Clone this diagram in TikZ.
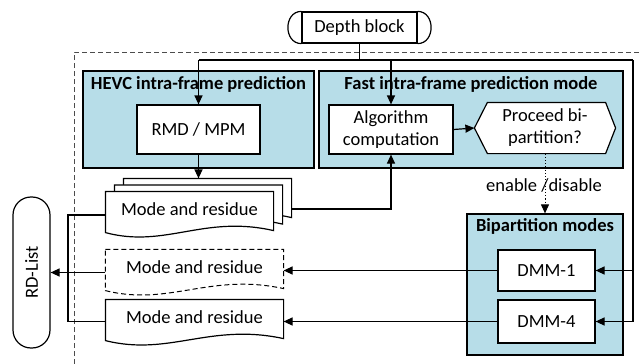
\documentclass[tikz,border=0pt]{standalone}
\usepackage{fontspec}
\setmainfont{Carlito}
\usetikzlibrary{arrows.meta,calc}
\definecolor{boxblue}{RGB}{183,221,232}
\begin{document}
\begin{tikzpicture}[x=1pt,y=-1pt, line width=1.2pt,
  every node/.style={font=\fontsize{18.5}{22}\selectfont, inner sep=0pt},
  arr/.style={-{Triangle[length=9pt,width=8pt]}},
  group/.style={draw, fill=boxblue},
  wbox/.style={draw, fill=white, align=center},
  ttl/.style={font=\fontsize{18.5}{22}\selectfont\bfseries, anchor=base},
  docbox/.style={minimum height=34pt},
  frame/.style={dash pattern=on 5pt off 3pt, black!70, line width=0.9pt},
  dotline/.style={dash pattern=on 1.2pt off 2pt, line width=1pt}
]
\useasboundingbox (0,0) rectangle (641,364);
\draw[frame] (74,364) -- (74,52) -- (641,52);

% depth block
\node[draw, minimum width=115pt, minimum height=31pt] (db) at (359.5,27.5) {Depth block};
\draw (db.north west) .. controls ($(db.north west)+(-18,0)$) and ($(db.south west)+(-18,0)$) .. (db.south west);
\draw (db.north east) .. controls ($(db.north east)+(18,0)$) and ($(db.south east)+(18,0)$) .. (db.south east);

% groups
\node[group, minimum width=231pt, minimum height=97pt] (hevc) at (198.5,119.5) {};
\node[ttl] (hevct) at (198.5,89) {HEVC intra-frame prediction};
\node[group, minimum width=304pt, minimum height=97pt] (fast) at (471,119.5) {};
\node[ttl] (fastt) at (471,89) {Fast intra-frame prediction mode};
\node[group, minimum width=156pt, minimum height=141pt] (bip) at (545,284.5) {};
\node[ttl] (bipt) at (545,231) {Bipartition modes};

% inner boxes
\node[wbox, minimum width=123pt, minimum height=49pt] (rmd) at (198.5,129.5) {RMD / MPM};
\node[wbox, minimum width=124pt, minimum height=49pt] (alg) at (391,129.5) {Algorithm\\computation};
\node[minimum width=140pt, minimum height=50pt] (hexb) at (545,128) {};
\draw[fill=white] (hexb.west) -- ($(hexb.north west)+(13,0)$) -- ($(hexb.north east)+(-10,0)$) -- (hexb.east) -- ($(hexb.south east)+(-10,0)$) -- ($(hexb.south west)+(13,0)$) -- cycle;
\node[align=center] (hex) at (hexb) {Proceed bi-\\partition?};
\node[wbox, minimum width=97pt, minimum height=41pt] (dmm1) at (546.5,270.5) {DMM-1};
\node[wbox, minimum width=97pt, minimum height=43pt] (dmm4) at (546.5,321.5) {DMM-4};

% RD list
\node[draw, rounded corners=18pt, minimum width=37pt, minimum height=151pt] (rd) at (31.5,272.5) {\rotatebox{90}{RD-List}};

% documents
\node[docbox, minimum width=167pt] (m3) at (207.5,196) {};
\node[docbox, minimum width=167pt] (m2) at (198.5,202.5) {};
\node[docbox, minimum width=167pt] (m1) at (189.5,209) {};
\node[docbox, minimum width=177pt] (m4) at (194.5,267) {};
\node[docbox, minimum width=177pt] (m5) at (194.5,317) {};
\draw[fill=white] (m3.north west) -- (m3.north east) -- ($(m3.south east)+(0,4)$) .. controls ($(m3.south east)+(-70,-12)$) and ($(m3.south west)+(60,22)$) .. ($(m3.south west)+(0,6)$) -- cycle;
\draw[fill=white] (m2.north west) -- (m2.north east) -- ($(m2.south east)+(0,4)$) .. controls ($(m2.south east)+(-70,-12)$) and ($(m2.south west)+(60,22)$) .. ($(m2.south west)+(0,6)$) -- cycle;
\draw[fill=white] (m1.north west) -- (m1.north east) -- ($(m1.south east)+(0,4)$) .. controls ($(m1.south east)+(-70,-12)$) and ($(m1.south west)+(60,22)$) .. ($(m1.south west)+(0,6)$) -- cycle;
\draw[fill=white, dash pattern=on 5pt off 3pt, line width=1pt] (m4.north west) -- (m4.north east) -- ($(m4.south east)+(0,4)$) .. controls ($(m4.south east)+(-74,-12)$) and ($(m4.south west)+(64,22)$) .. ($(m4.south west)+(0,6)$) -- cycle;
\draw[fill=white] (m5.north west) -- (m5.north east) -- ($(m5.south east)+(0,4)$) .. controls ($(m5.south east)+(-74,-12)$) and ($(m5.south west)+(64,22)$) .. ($(m5.south west)+(0,6)$) -- cycle;
\node (m1t) at (m1) {Mode and residue};
\node (m4t) at (m4) {Mode and residue};
\node (m5t) at (m5) {Mode and residue};

% connectors
\coordinate (j) at (db.south |- 0,60);
\coordinate (jl) at (rmd.north |- j);
\coordinate (jr) at (633,60);
\draw (db.south) -- (j);
\draw (jl) -- (jr);
\draw[arr] (jl) -- (rmd.north);
\draw[arr] (alg.north |- j) -- (alg.north);
\draw[arr] (jr) |- (dmm1.east);
\draw[arr] (jr) |- (dmm4.east);
\draw[arr] (alg.east) -- (hexb.west);
\draw[arr, dotline] (hexb.south) -- (bip.north);
\node (lbl) at (544,185) {enable /disable};
\draw[arr] (rmd.south) -- (rmd.south |- m3.north);
\draw[arr] (m3.east |- m1) -| (alg.south);
\coordinate (lx) at (68,215);
\draw (m1.west |- lx) -- (lx) |- (m5.west |- dmm4.west);
\draw[arr] (dmm1.west) -- (dmm1.west -| m4.east);
\draw[arr] (dmm4.west) -- (dmm4.west -| m5.east);
\draw[arr] (m4.west |- rd.east) -- (rd.east);
\end{tikzpicture}
\end{document}
